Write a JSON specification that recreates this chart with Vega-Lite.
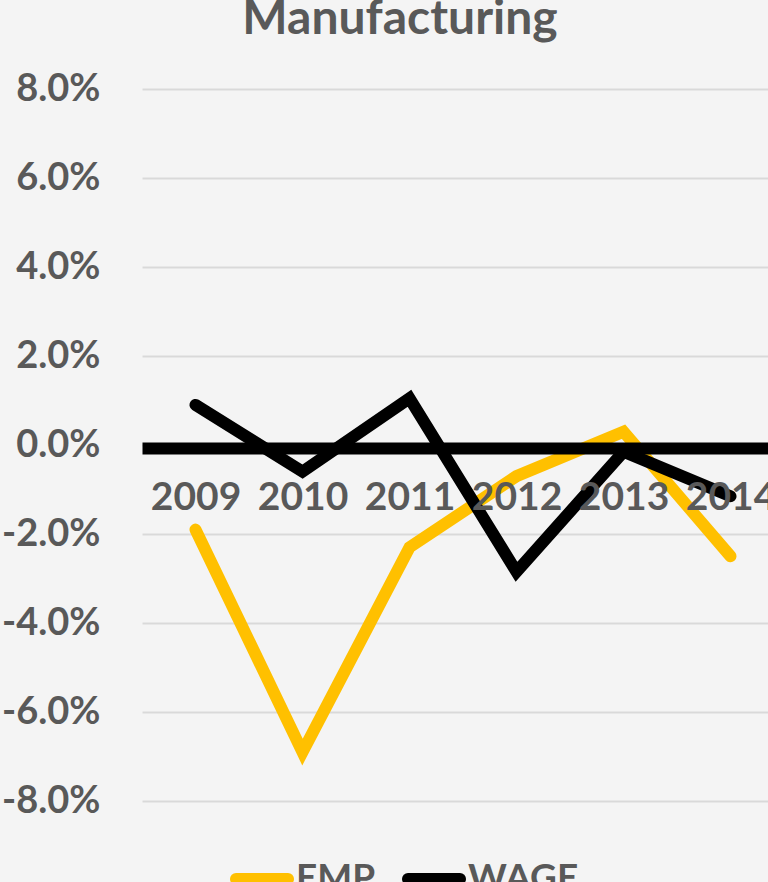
{
  "$schema": "https://vega.github.io/schema/vega-lite/v6.json",
  "autosize": "none",
  "width": 626,
  "height": 712,
  "padding": {"left": 142, "top": 89, "right": 0, "bottom": 81},
  "background": "#f4f4f4",
  "config": {"view": {"stroke": null}, "font": "Lato"},
  "title": {
    "text": "Manufacturing",
    "anchor": "middle",
    "frame": "group",
    "dx": -55,
    "offset": 26,
    "fontSize": 48,
    "font": "Lato",
    "fontWeight": "bold",
    "color": "#595959"
  },
  "data": {
    "values": [
      {"year": "2009", "series": "EMP", "value": -0.019},
      {"year": "2010", "series": "EMP", "value": -0.069},
      {"year": "2011", "series": "EMP", "value": -0.023},
      {"year": "2012", "series": "EMP", "value": -0.007},
      {"year": "2013", "series": "EMP", "value": 0.003},
      {"year": "2014", "series": "EMP", "value": -0.025},
      {"year": "2009", "series": "WAGE", "value": 0.009},
      {"year": "2010", "series": "WAGE", "value": -0.006},
      {"year": "2011", "series": "WAGE", "value": 0.0105},
      {"year": "2012", "series": "WAGE", "value": -0.0285},
      {"year": "2013", "series": "WAGE", "value": -0.0015},
      {"year": "2014", "series": "WAGE", "value": -0.0115}
    ]
  },
  "mark": {"type": "line", "strokeWidth": 12, "strokeCap": "round", "strokeJoin": "miter"},
  "encoding": {
    "x": {
      "field": "year",
      "type": "ordinal",
      "scale": {"type": "point", "padding": 0.5, "range": [0, 642]},
      "axis": {
        "title": null,
        "orient": "bottom",
        "offset": -353,
        "zindex": 1,
        "ticks": false,
        "grid": false,
        "domainColor": "#000000",
        "domainWidth": 12,
        "labelAngle": 0,
        "labelFont": "Lato",
        "labelFontWeight": "bold",
        "labelFontSize": 39,
        "labelColor": "#595959",
        "labelPadding": 30,
        "labelBaseline": "top"
      }
    },
    "y": {
      "field": "value",
      "type": "quantitative",
      "scale": {"domain": [-0.08, 0.08], "nice": false, "zero": false},
      "axis": {
        "title": null,
        "values": [-0.08, -0.06, -0.04, -0.02, 0, 0.02, 0.04, 0.06, 0.08],
        "format": ".1%",
        "labelExpr": "replace(datum.label, '\u2212', '-')",
        "domain": false,
        "ticks": false,
        "grid": true,
        "gridColor": "#d9d9d9",
        "gridWidth": 2,
        "labelFont": "Lato",
        "labelFontWeight": "bold",
        "labelFontSize": 38,
        "labelColor": "#595959",
        "labelPadding": 42
      }
    },
    "color": {
      "field": "series",
      "type": "nominal",
      "scale": {"domain": ["EMP", "WAGE"], "range": ["#FFC000", "#000000"]},
      "legend": {
        "title": null,
        "orient": "none",
        "legendX": 88,
        "legendY": 758,
        "direction": "horizontal",
        "symbolType": "stroke",
        "symbolSize": 2704,
        "symbolStrokeWidth": 12,
        "labelFont": "Lato",
        "labelFontWeight": "bold",
        "labelFontSize": 37,
        "labelColor": "#595959",
        "labelOffset": 2,
        "columnPadding": 8,
        "encode": {"symbols": {"update": {"strokeCap": {"value": "round"}}}}
      }
    }
  }
}
